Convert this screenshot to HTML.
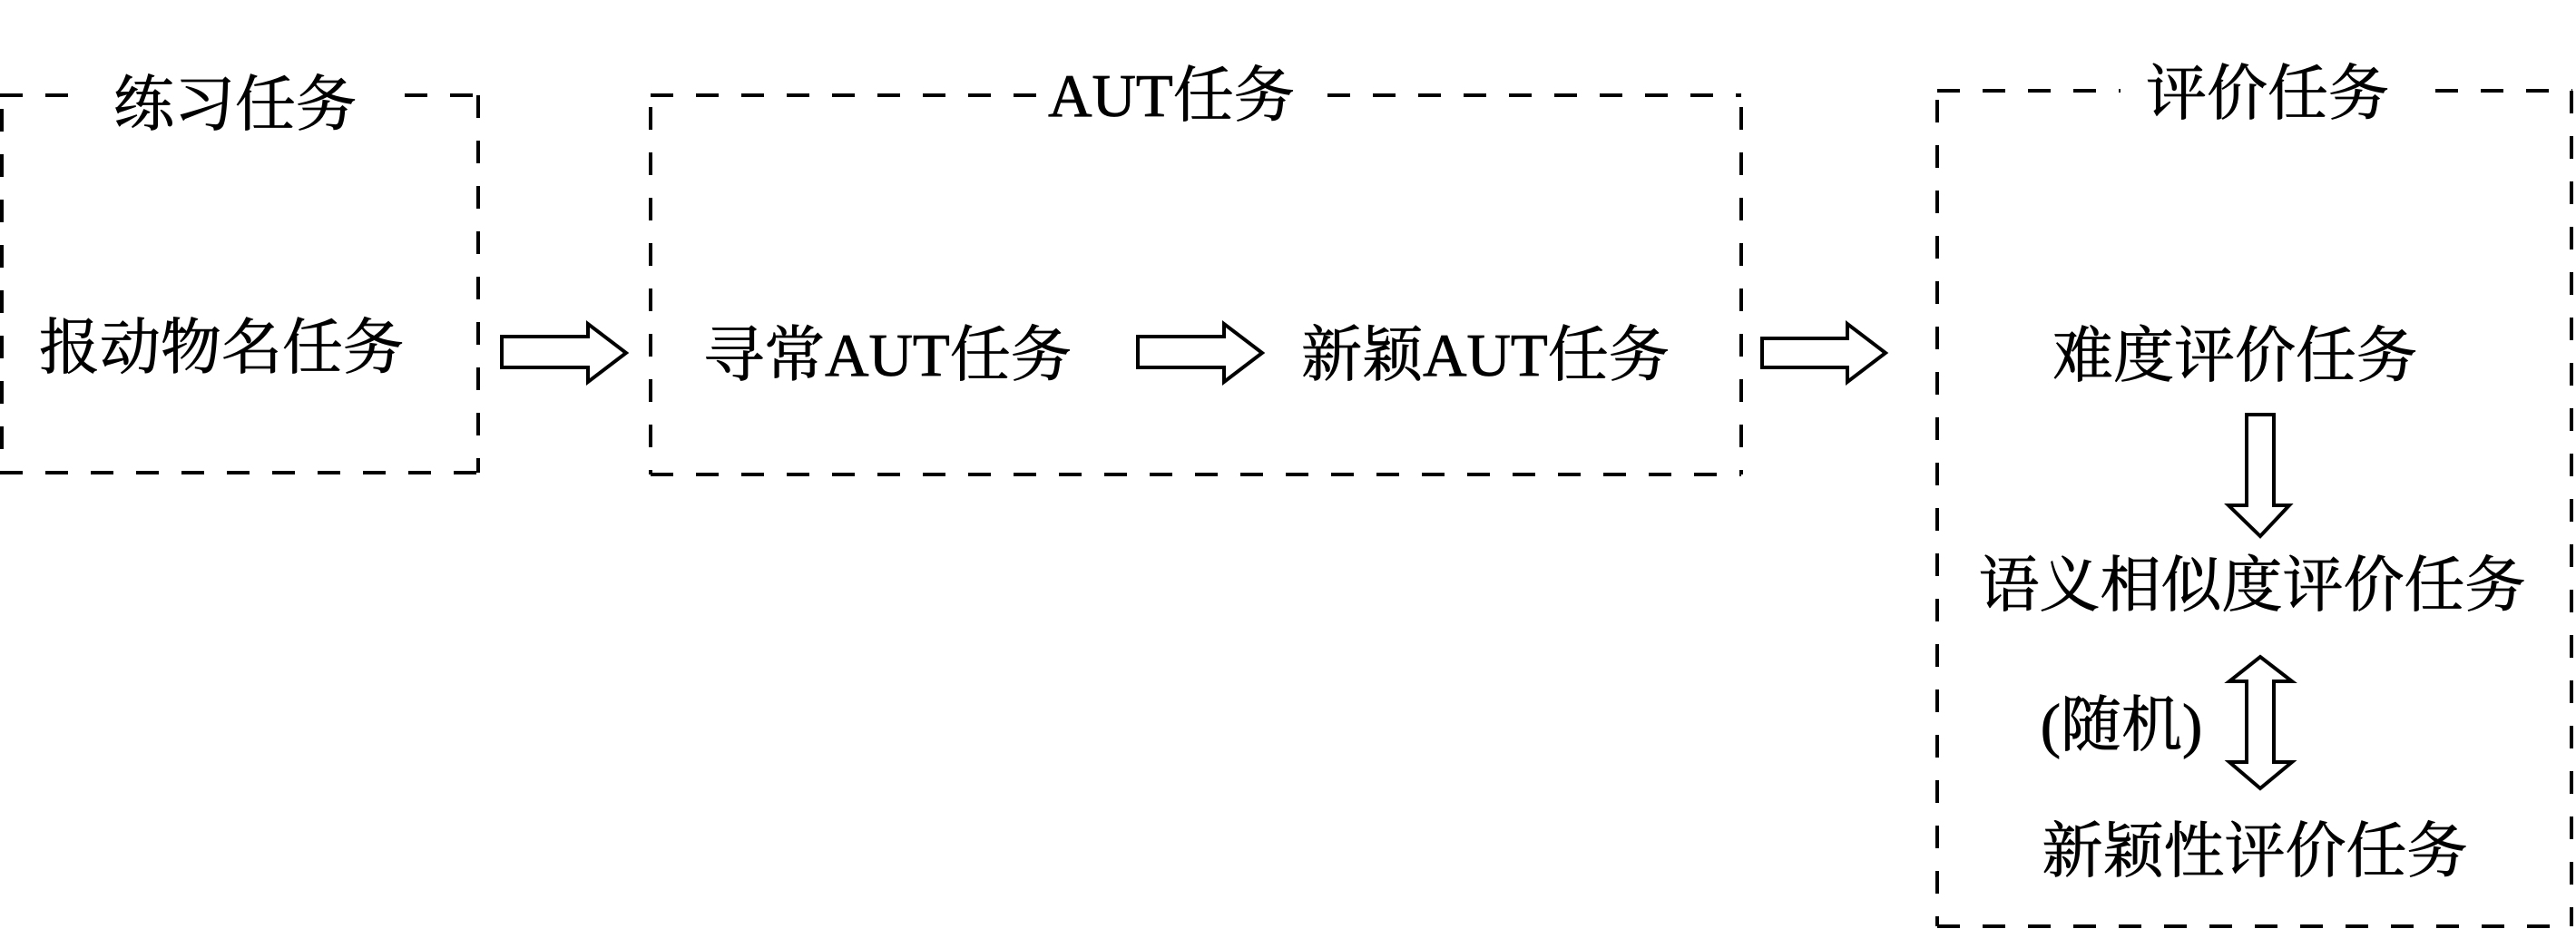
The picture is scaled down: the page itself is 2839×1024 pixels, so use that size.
<!DOCTYPE html>
<html><head><meta charset="utf-8"><style>
html,body{margin:0;padding:0;background:#fff;}
svg{display:block;}
text{font-family:"Liberation Serif","Noto Serif CJK SC",serif;font-size:67px;fill:#000;stroke:#000;stroke-width:0.8px;text-anchor:middle;dominant-baseline:central;}
</style></head><body>
<svg width="2839" height="1024" viewBox="0 0 2839 1024" xmlns="http://www.w3.org/2000/svg">
<g stroke="#000" stroke-width="4" fill="none" stroke-dasharray="25 25">
<line x1="0" y1="105" x2="80" y2="105"/>
<line x1="446" y1="105" x2="529" y2="105"/>
<line x1="527" y1="105" x2="527" y2="521"/>
<line x1="2" y1="120" x2="2" y2="521"/>
<line x1="0" y1="521" x2="529" y2="521"/>
<line x1="717" y1="105" x2="1144" y2="105"/>
<line x1="1463" y1="105" x2="1919" y2="105"/>
<line x1="717" y1="118" x2="717" y2="523"/>
<line x1="1919" y1="118" x2="1919" y2="523"/>
<line x1="717" y1="523" x2="1919" y2="523"/>
<line x1="2135" y1="100" x2="2337" y2="100"/>
<line x1="2684" y1="100" x2="2835" y2="100"/>
<line x1="2135" y1="110" x2="2135" y2="1021"/>
<line x1="2834" y1="100" x2="2834" y2="1021"/>
<line x1="2135" y1="1021" x2="2835" y2="1021"/>
</g>
<g stroke="#000" stroke-width="4" fill="#fff" stroke-linejoin="miter">
<polygon points="553,371 648,371 648,357 690,389 648,421 648,405 553,405"/>
<polygon points="1254,371 1349,371 1349,357 1391,389 1349,421 1349,405 1254,405"/>
<polygon points="1942,373 2036,373 2036,357 2078,389 2036,421 2036,405 1942,405"/>
<polygon points="2476,457 2506,457 2506,557 2523,557 2491,591 2456,557 2476,557"/>
<polygon points="2491,724 2526,751 2506,751 2506,840 2526,840 2491,869 2457,840 2476,840 2476,751 2457,751"/>
</g>
<text x="259" y="116">练习任务</text>
<text x="1291" y="106">AUT任务</text>
<text x="2499" y="104">评价任务</text>
<text x="244" y="384">报动物名任务</text>
<text x="978" y="392">寻常AUT任务</text>
<text x="1637" y="392">新颖AUT任务</text>
<text x="2463" y="393">难度评价任务</text>
<text x="2482" y="646">语义相似度评价任务</text>
<text x="2338" y="800">(随机)</text>
<text x="2485" y="939">新颖性评价任务</text>
</svg>
</body></html>
